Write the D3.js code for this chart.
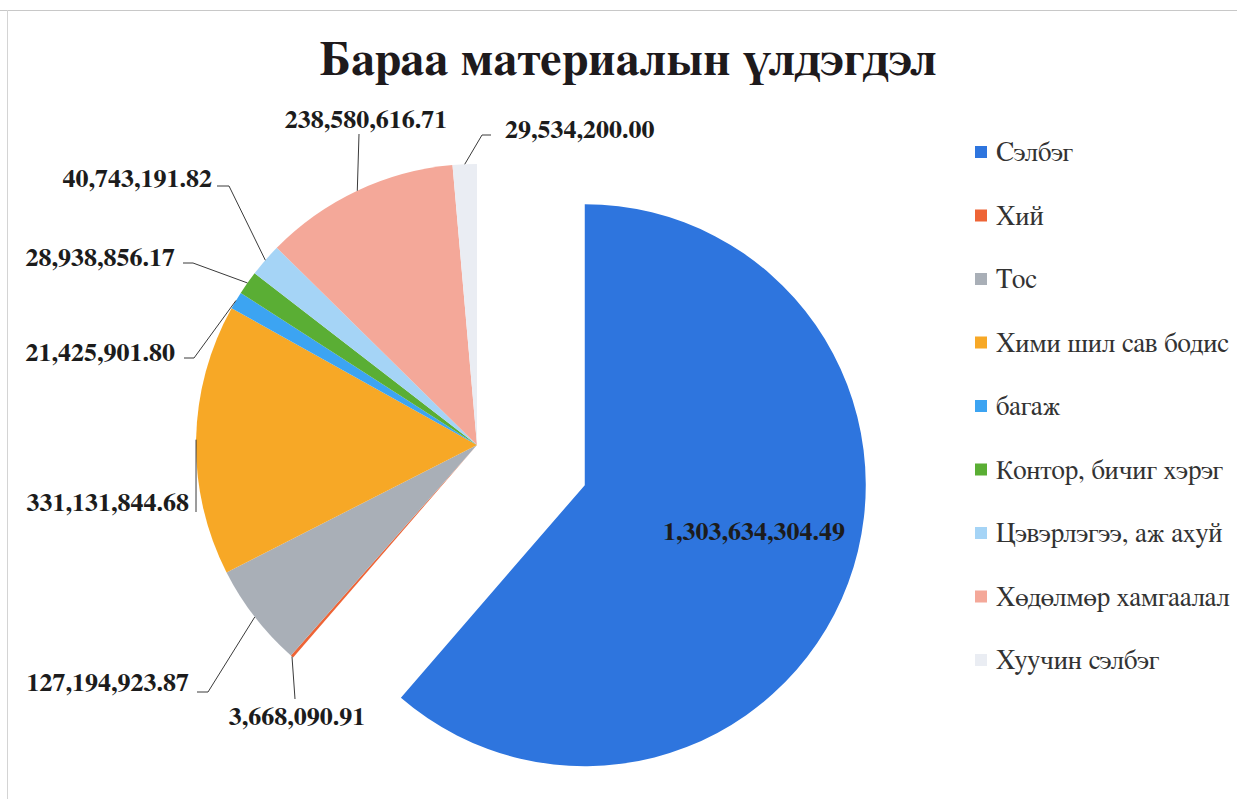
<!DOCTYPE html>
<html>
<head>
<meta charset="utf-8">
<script src="https://cdn.jsdelivr.net/npm/d3@7"></script>
<style>
  body { margin: 0; background: #fff; }
  svg { display: block; }
</style>
</head>
<body>
<div id="chart"></div>
<script>
// data
const categories = ['Сэлбэг', 'Хий', 'Тос', 'Хими шил сав бодис', 'багаж',
    'Контор, бичиг хэрэг', 'Цэвэрлэгээ, аж ахуй', 'Хөдөлмөр хамгаалал', 'Хуучин сэлбэг'];
const values = [1303634304.49, 3668090.91, 127194923.87, 331131844.68, 21425901.80,
    28938856.17, 40743191.82, 238580616.71, 29534200.00];
const colors = ['#2E75DE', '#EE6436', '#A9AFB7', '#F7A826', '#3CA4F2',
    '#5AAE34', '#A5D4F6', '#F4A899', '#EAEDF3'];
const title = 'Бараа материалын үлдэгдэл';

////////////////////////////////////////////////////////
const W = 1237, H = 799;
const cx = 477, cy = 445, radius = 281;
const explode = 115; // first slice pulled out
const serif = 'FreeSerif, "Liberation Serif", "Times New Roman", serif';

// where each value label sits (baseline) and the bend of its leader line
const labelLayout = [
    {x: 754, y: 540, anchor: 'middle', leader: null},
    {x: 297, y: 725, anchor: 'middle', leader: [[295, 699]]},
    {x: 189, y: 691, anchor: 'end', leader: [[197, 692], [208, 692]]},
    {x: 189, y: 511, anchor: 'end', leader: [[196, 512]]},
    {x: 175, y: 361, anchor: 'end', leader: [[184, 358], [194, 358]]},
    {x: 175, y: 266, anchor: 'end', leader: [[183, 263], [193, 263]]},
    {x: 212, y: 187, anchor: 'end', leader: [[217, 186], [229, 186]]},
    {x: 366, y: 128, anchor: 'middle', leader: [[359, 134]]},
    {x: 505, y: 138, anchor: 'start', leader: [[491, 135], [482, 135]]}
];

const svg = d3.select('#chart').append('svg')
    .attr('width', W)
    .attr('height', H);

// chart frame edges
svg.append('line').attr('x1', 0).attr('x2', W).attr('y1', 10.5).attr('y2', 10.5)
    .attr('stroke', '#c8c8c8').attr('stroke-width', 1);
svg.append('line').attr('x1', 7.5).attr('x2', 7.5).attr('y1', 10).attr('y2', H)
    .attr('stroke', '#d4d4d4').attr('stroke-width', 1);

svg.append('text')
    .attr('x', 628)
    .attr('y', 75)
    .attr('text-anchor', 'middle')
    .style('font-family', serif)
    .style('font-weight', 'bold')
    .style('font-size', '48px')
    .style('fill', '#1e1a1c')
    .text(title);

const data = categories.map((c, i) => ({name: c, value: values[i], color: colors[i]}));

const pie = d3.pie().sort(null).value(d => d.value);
const arcs = pie(data);
const arc = d3.arc().innerRadius(0).outerRadius(radius);

function offsetOf(d, i) {
    if (i !== 0) return [0, 0];
    const a = (d.startAngle + d.endAngle) / 2;
    return [Math.sin(a) * explode, -Math.cos(a) * explode];
}

const g = svg.append('g').attr('transform', 'translate(' + cx + ',' + cy + ')');

g.selectAll('.slice')
    .data(arcs)
    .enter().append('path')
    .attr('class', 'slice')
    .attr('transform', (d, i) => 'translate(' + offsetOf(d, i) + ')')
    .attr('d', arc)
    .style('fill', d => d.data.color);

// leader lines: from the label bend to the edge of the slice
const fmt = d3.format(',.2f');
arcs.forEach((d, i) => {
    const lay = labelLayout[i];
    if (!lay.leader) return;
    const a = (d.startAngle + d.endAngle) / 2;
    const o = offsetOf(d, i);
    const end = [cx + o[0] + Math.sin(a) * radius, cy + o[1] - Math.cos(a) * radius];
    svg.append('path')
        .attr('d', d3.line()(lay.leader.concat([end])))
        .attr('fill', 'none')
        .attr('stroke', '#3a3a3a')
        .attr('stroke-width', 1);
});

svg.selectAll('.val')
    .data(arcs)
    .enter().append('text')
    .attr('class', 'val')
    .attr('x', (d, i) => labelLayout[i].x)
    .attr('y', (d, i) => labelLayout[i].y)
    .attr('text-anchor', (d, i) => labelLayout[i].anchor)
    .style('font-family', serif)
    .style('font-weight', 'bold')
    .style('font-size', '26px')
    .style('fill', '#1c1c1c')
    .text(d => fmt(d.data.value));

// legend
const legend = svg.append('g').attr('transform', 'translate(975,152)');
const rows = legend.selectAll('.row')
    .data(data)
    .enter().append('g')
    .attr('class', 'row')
    .attr('transform', (d, i) => 'translate(0,' + (i * 63.5) + ')');

rows.append('rect')
    .attr('x', 0)
    .attr('y', -6)
    .attr('width', 12)
    .attr('height', 12)
    .style('fill', d => d.color);

rows.append('text')
    .attr('x', 21)
    .attr('y', 9)
    .style('font-family', serif)
    .style('font-size', '27px')
    .style('fill', '#333')
    .text(d => d.name);
</script>
</body>
</html>
